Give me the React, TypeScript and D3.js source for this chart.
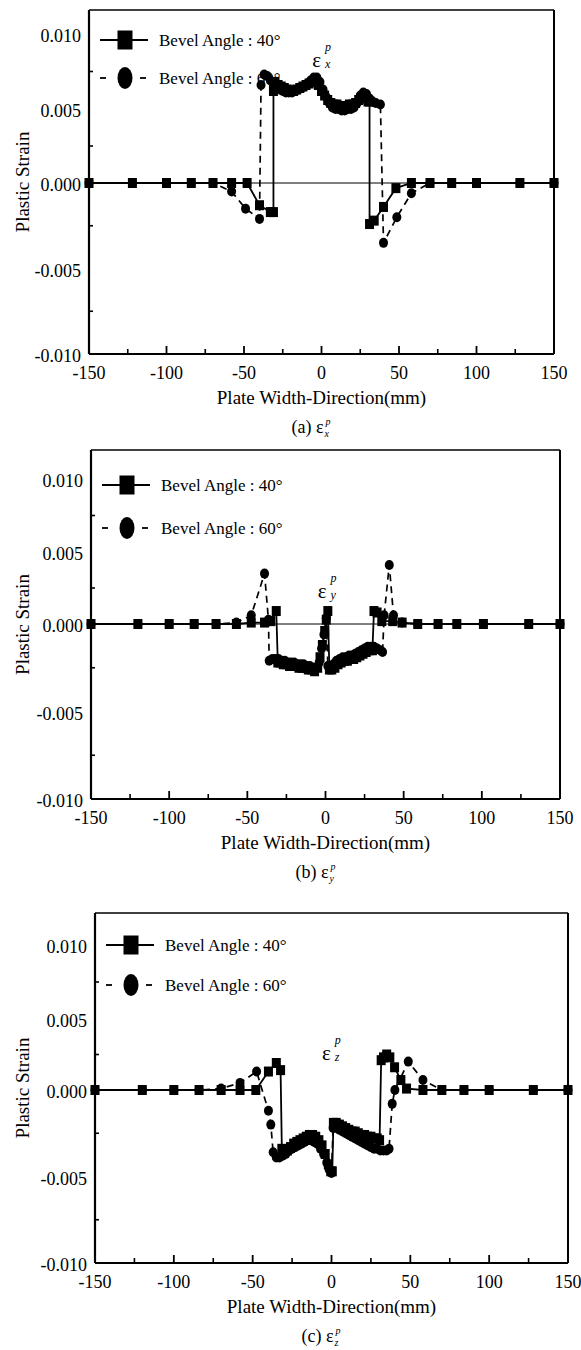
import React from 'react';
import * as d3 from 'd3';

type Pt = [number, number];

// ---------- axis / label data ----------
const xTicksMajor = [-150, -100, -50, 0, 50, 100, 150];
const xTicksMinor = [-125, -75, -25, 25, 75, 125];
const yTicksMajor = [0.01, 0.005, 0.0, -0.005, -0.01];
const yTicksMinor = [0.0075, 0.0025, -0.0025, -0.0075];
const seriesLabels = ['Bevel Angle : 40°', 'Bevel Angle : 60°'];
const xTitle = 'Plate Width-Direction(mm)';
const yTitle = 'Plastic Strain';
const captions = ['(a)', '(b)', '(c)'];
const strainSubs = ['x', 'y', 'z'];

// ---------- (a) eps_x ----------
const a40: Pt[] = [
  [-150, 0], [-122, 0], [-100, 0], [-84, 0], [-70, 0], [-58, 0], [-48, 0],
  [-40, -0.0013], [-33, -0.0017], [-31, -0.0017],
  [-31, 0.0062], [-30, 0.0068], [-28, 0.0066], [-26, 0.0065], [-24, 0.0064], [-22, 0.0063],
  [-20, 0.0062], [-18, 0.0062], [-16, 0.0063], [-14, 0.0064], [-12, 0.0065], [-10, 0.0066],
  [-8, 0.0067], [-6, 0.0068], [-4, 0.0068], [-2, 0.0066], [0, 0.0062], [2, 0.0059],
  [4, 0.0056], [6, 0.0054], [8, 0.0053], [10, 0.0053], [12, 0.0052], [14, 0.0052],
  [16, 0.0052], [18, 0.0053], [20, 0.0053], [22, 0.0054], [24, 0.0056], [26, 0.0058],
  [28, 0.0057], [30, 0.0055], [31, 0.0055],
  [31, -0.0024], [34, -0.0022], [40, -0.0014], [48, -0.0003], [58, 0], [70, 0], [84, 0],
  [100, 0], [128, 0], [150, 0],
];
const a60: Pt[] = [
  [-150, 0], [-122, 0], [-100, 0], [-84, 0], [-70, 0], [-58, -0.0005], [-49, -0.0015],
  [-40, -0.0021], [-39, 0.0066], [-37, 0.0073], [-35, 0.0072], [-33, 0.0069], [-31, 0.0066],
  [-29, 0.0064], [-27, 0.0063], [-25, 0.0062], [-23, 0.0061], [-21, 0.0061], [-19, 0.0061],
  [-17, 0.0062], [-15, 0.0063], [-13, 0.0064], [-11, 0.0065], [-9, 0.0067], [-7, 0.0069],
  [-5, 0.0071], [-3, 0.0071], [-1, 0.0068], [1, 0.0063], [3, 0.0058], [5, 0.0054],
  [7, 0.0051], [9, 0.005], [11, 0.005], [13, 0.0049], [15, 0.0049], [17, 0.005],
  [19, 0.005], [21, 0.0051], [23, 0.0054], [25, 0.0059], [27, 0.0061], [29, 0.006],
  [31, 0.0057], [33, 0.0055], [35, 0.0054], [38, 0.0053],
  [40, -0.0035], [48.6, -0.002], [58, -0.0006], [70, 0], [84, 0], [100, 0], [128, 0], [150, 0],
];

// ---------- (b) eps_y ----------
const b40: Pt[] = [
  [-150, 0], [-120, 0], [-100, 0], [-84, 0], [-70, 0], [-57, 0], [-47.5, 0.0001],
  [-39, 0.0001], [-35, 0.0002], [-31.5, 0.0009],
  [-30.5, -0.0022], [-29, -0.0022], [-27, -0.0023], [-25, -0.0023], [-23, -0.0024],
  [-21, -0.0024], [-19, -0.0024], [-17, -0.0025], [-15, -0.0025], [-13, -0.0025],
  [-11, -0.0026], [-9, -0.0026], [-7, -0.0027], [-5, -0.0025], [-3.5, -0.0019],
  [-2, -0.0012], [-0.5, -0.0004], [0.5, 0.0003], [1.5, 0.0009],
  [2.5, -0.0026], [4, -0.0026], [6, -0.0025], [8, -0.0023], [10, -0.0022], [12, -0.0021],
  [14, -0.0021], [16, -0.002], [18, -0.002], [20, -0.0019], [22, -0.0018], [24, -0.0017],
  [26, -0.0016], [28, -0.0015], [30, -0.0015],
  [31, 0.0009], [33, 0.0008], [36, 0.0002], [43, 0.0002], [49, 0.0001], [59, 0], [72, 0],
  [84, 0], [101, 0], [130, 0], [150, 0],
];
const b60: Pt[] = [
  [-150, 0], [-120, 0], [-100, 0], [-84, 0], [-70, 0], [-57, 0.0001], [-47.5, 0.0006],
  [-39, 0.0035], [-36.5, 0.0003],
  [-36, -0.0021], [-34, -0.002], [-32, -0.002], [-30, -0.002], [-28, -0.0021], [-26, -0.0021],
  [-24, -0.0022], [-22, -0.0022], [-20, -0.0022], [-18, -0.0023], [-16, -0.0023],
  [-14, -0.0023], [-12, -0.0024], [-10, -0.0024], [-8, -0.0025], [-6, -0.0025],
  [-4, -0.0022], [-2.5, -0.0014], [-1, -0.0006], [0.5, 0.0004],
  [1.5, -0.0024], [3, -0.0024], [5, -0.0023], [7, -0.0021], [9, -0.002], [11, -0.0019],
  [13, -0.0019], [15, -0.0018], [17, -0.0018], [19, -0.0017], [21, -0.0016], [23, -0.0015],
  [25, -0.0014], [27, -0.0013], [29, -0.0013], [31, -0.0013], [33, -0.0014], [35, -0.0015],
  [36.5, -0.0016], [37.5, 0.0006], [40.8, 0.0041], [43.5, 0.0006], [49, 0.0001], [59, 0],
  [72, 0], [84, 0], [101, 0], [130, 0], [150, 0],
];

// ---------- (c) eps_z ----------
const c40: Pt[] = [
  [-150, 0], [-120, 0], [-100, 0], [-84, 0], [-70, 0], [-58, 0], [-48, 0],
  [-40, 0.0013], [-35, 0.0019], [-32.3, 0.0014],
  [-31.5, -0.0034], [-30, -0.0036], [-28, -0.0035], [-26, -0.0033], [-24, -0.0031],
  [-22, -0.003], [-20, -0.0029], [-18, -0.0028], [-16, -0.0027], [-14, -0.0026],
  [-12, -0.0026], [-10, -0.0027], [-8, -0.0029], [-6, -0.0032], [-4, -0.0037],
  [-2, -0.0043], [-0.5, -0.0047], [0.5, -0.0047],
  [1.2, -0.0019], [3, -0.0019], [5, -0.002], [7, -0.0021], [9, -0.0022], [11, -0.0023],
  [13, -0.0024], [15, -0.0024], [17, -0.0025], [19, -0.0026], [21, -0.0026], [23, -0.0027],
  [25, -0.0027], [27, -0.0028], [29, -0.0028], [30.5, -0.0029],
  [31.5, 0.0021], [33, 0.0023], [35, 0.0025], [37, 0.0023], [40, 0.0016], [44, 0.0007],
  [47.6, 0.0001], [58, 0], [70, 0], [84, 0], [100, 0], [128, 0], [150, 0],
];
const c60: Pt[] = [
  [-150, 0], [-120, 0], [-100, 0], [-84, 0], [-70, 0.0001], [-58, 0.0005], [-47.5, 0.0013],
  [-40, -0.0012], [-38.5, -0.002], [-37, -0.0036], [-35, -0.0039], [-33, -0.0039],
  [-31, -0.0038], [-29, -0.0037], [-27, -0.0035], [-25, -0.0034], [-23, -0.0033],
  [-21, -0.0032], [-19, -0.0031], [-17, -0.003], [-15, -0.0029], [-13, -0.0029],
  [-11, -0.003], [-9, -0.0031], [-7, -0.0034], [-5, -0.0037], [-3, -0.0042],
  [-1.5, -0.0046], [0, -0.0048],
  [1, -0.0022], [3, -0.0022], [5, -0.0023], [7, -0.0024], [9, -0.0025], [11, -0.0026],
  [13, -0.0027], [15, -0.0028], [17, -0.0029], [19, -0.003], [21, -0.0031], [23, -0.0032],
  [25, -0.0033], [27, -0.0034], [29, -0.0034], [31, -0.0035], [33, -0.0035], [35, -0.0035],
  [36.5, -0.0034], [38.5, -0.0008], [40.2, 0], [48.7, 0.002], [58, 0.0007], [70, 0],
  [84, 0], [100, 0], [128, 0], [150, 0],
];

// annotation anchor (x in mm, strain value) for the eps label inside each plot
const annotPos: Pt[] = [[-6, 0.0078], [-5, 0.0018], [-6, 0.0021]];

const Y_STOPS = [-0.01, 0, 0.005, 0.01];

interface PanelCfg {
  idx: number;
  s40: Pt[];
  s60: Pt[];
  left: number;
  right: number;
  top: number;
  bottom: number;
  yStops: number[];
  zeroLine: boolean;
  legendY: [number, number];
}

const panels: PanelCfg[] = [
  { idx: 0, s40: a40, s60: a60, left: 89, right: 554, top: 10, bottom: 354, yStops: [354, 183, 109, 34], zeroLine: true, legendY: [40, 78] },
  { idx: 1, s40: b40, s60: b60, left: 91, right: 560, top: 450, bottom: 799, yStops: [799, 624, 552, 479], zeroLine: true, legendY: [485, 528] },
  { idx: 2, s40: c40, s60: c60, left: 95, right: 568, top: 913, bottom: 1263, yStops: [1263, 1090, 1019, 945], zeroLine: false, legendY: [945, 985] },
];

const FONT = '"Liberation Serif", "DejaVu Serif", serif';

function Panel({ cfg }: { cfg: PanelCfg }) {
  const x = d3.scaleLinear().domain([-150, 150]).range([cfg.left, cfg.right]);
  const y = d3.scaleLinear().domain(Y_STOPS).range(cfg.yStops);
  const line = d3.line<Pt>().x((d) => x(d[0])).y((d) => y(d[1]));
  const cx = (cfg.left + cfg.right) / 2;
  const cy = (cfg.top + cfg.bottom) / 2;
  const sub = strainSubs[cfg.idx];
  const [ax, av] = annotPos[cfg.idx];
  const lx0 = cfg.left + 11;
  const lxm = cfg.left + 36;
  const lx1 = cfg.left + 59;
  const ltx = cfg.left + 70;

  return (
    <g>
      {/* frame */}
      <line x1={cfg.left} x2={cfg.right} y1={cfg.top} y2={cfg.top} stroke="#000" strokeWidth={1.3} />
      <line x1={cfg.left} x2={cfg.left} y1={cfg.top} y2={cfg.bottom} stroke="#000" strokeWidth={2.2} />
      <line x1={cfg.right} x2={cfg.right} y1={cfg.top} y2={cfg.bottom} stroke="#000" strokeWidth={2} />
      <line x1={cfg.left} x2={cfg.right} y1={cfg.bottom} y2={cfg.bottom} stroke="#000" strokeWidth={2.2} />

      {/* x ticks (inside) */}
      {xTicksMajor.map((t) => (
        <line key={'xM' + t} x1={x(t)} x2={x(t)} y1={cfg.bottom} y2={cfg.bottom - 8} stroke="#000" strokeWidth={1.8} />
      ))}
      {xTicksMinor.map((t) => (
        <line key={'xm' + t} x1={x(t)} x2={x(t)} y1={cfg.bottom} y2={cfg.bottom - 5} stroke="#000" strokeWidth={1.6} />
      ))}
      {yTicksMinor.map((t) => (
        <line key={'ym' + t} x1={cfg.left} x2={cfg.left + 4} y1={y(t)} y2={y(t)} stroke="#000" strokeWidth={1.6} />
      ))}

      {/* tick labels */}
      {xTicksMajor.map((t) => (
        <text key={'xl' + t} x={x(t)} y={cfg.bottom + 25} textAnchor="middle" fontSize={18} fontFamily={FONT}>
          {String(t)}
        </text>
      ))}
      {yTicksMajor.map((t) => (
        <text key={'yl' + t} x={cfg.left - 8} y={y(t) + 8} textAnchor="end" fontSize={18} fontFamily={FONT}>
          {t.toFixed(3)}
        </text>
      ))}

      {/* axis titles */}
      <text x={cx} y={cfg.bottom + 50} textAnchor="middle" fontSize={19} fontFamily={FONT}>
        {xTitle}
      </text>
      <text
        transform={`translate(29,${cy}) rotate(-90)`}
        textAnchor="middle"
        fontSize={19}
        fontFamily={FONT}
      >
        {yTitle}
      </text>

      {/* caption */}
      <text x={cx - 30} y={cfg.bottom + 79} fontSize={18} fontFamily={FONT}>
        {captions[cfg.idx]} ε
        <tspan dx={2} dy={-8} fontSize={10} fontStyle="italic">p</tspan>
        <tspan dx={-6} dy={12} fontSize={10} fontStyle="italic">{sub}</tspan>
      </text>

      {/* zero reference line */}
      {cfg.zeroLine && (
        <line x1={cfg.left} x2={cfg.right} y1={y(0)} y2={y(0)} stroke="#000" strokeWidth={1} />
      )}

      {/* 60 deg series */}
      <path d={line(cfg.s60) || ''} fill="none" stroke="#000" strokeWidth={1.7} strokeDasharray="7 5" />
      {cfg.s60.map((d, i) => (
        <ellipse key={'c' + i} cx={x(d[0])} cy={y(d[1])} rx={4.5} ry={5} fill="#000" />
      ))}
      {/* 40 deg series */}
      <path d={line(cfg.s40) || ''} fill="none" stroke="#000" strokeWidth={1.8} />
      {cfg.s40.map((d, i) => (
        <rect key={'s' + i} x={x(d[0]) - 4.5} y={y(d[1]) - 5} width={9} height={10} fill="#000" />
      ))}

      {/* legend */}
      <line x1={lx0} x2={lx1} y1={cfg.legendY[0]} y2={cfg.legendY[0]} stroke="#000" strokeWidth={1.8} />
      <rect x={lxm - 7.5} y={cfg.legendY[0] - 9.5} width={15} height={19} fill="#000" />
      <text x={ltx} y={cfg.legendY[0] + 6} fontSize={17} fontFamily={FONT}>{seriesLabels[0]}</text>
      <line x1={lx0} x2={lx0 + 6} y1={cfg.legendY[1]} y2={cfg.legendY[1]} stroke="#000" strokeWidth={1.8} />
      <line x1={lx1 - 8} x2={lx1 - 2} y1={cfg.legendY[1]} y2={cfg.legendY[1]} stroke="#000" strokeWidth={1.8} />
      <ellipse cx={lxm} cy={cfg.legendY[1]} rx={7.5} ry={11} fill="#000" />
      <text x={ltx} y={cfg.legendY[1] + 6} fontSize={17} fontFamily={FONT}>{seriesLabels[1]}</text>

      {/* strain symbol annotation */}
      <text x={x(ax)} y={y(av)} fontSize={21} fontFamily={FONT}>
        ε
        <tspan dx={4} dy={-16} fontSize={12} fontStyle="italic">p</tspan>
        <tspan dx={-6} dy={17} fontSize={12} fontStyle="italic">{sub}</tspan>
      </text>
    </g>
  );
}

export default function App() {
  return (
    <svg
      width={581}
      height={1350}
      viewBox="0 0 581 1350"
      style={{ position: 'absolute', left: 0, top: 0, background: '#fff' }}
    >
      <rect x={0} y={0} width={581} height={1350} fill="#fff" />
      {panels.map((p) => (
        <Panel key={p.idx} cfg={p} />
      ))}
    </svg>
  );
}
